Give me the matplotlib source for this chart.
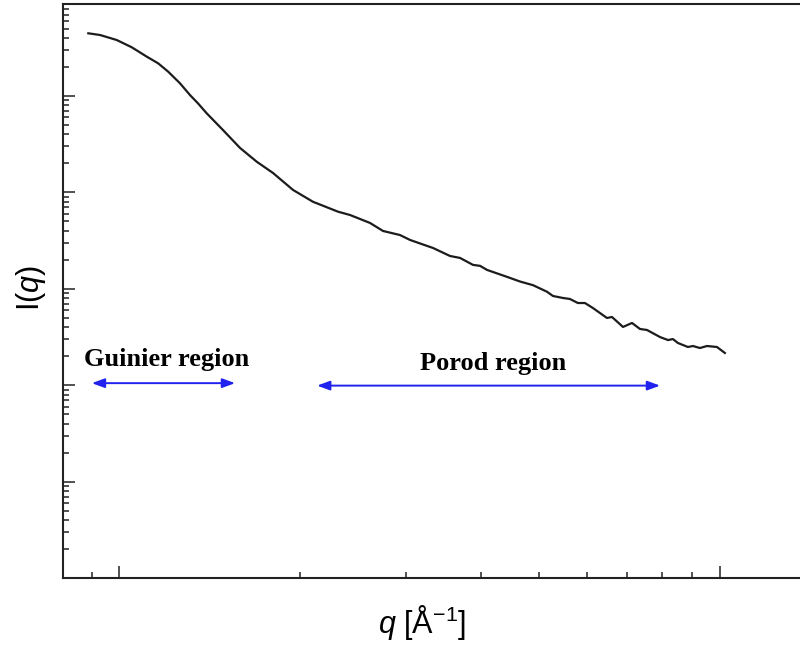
import matplotlib
matplotlib.use("Agg")
import matplotlib.pyplot as plt
from matplotlib.ticker import LogLocator, NullFormatter

# ---- data ----
q = [0.00889, 0.00930, 0.00991, 0.01050, 0.01112, 0.01162, 0.01207, 0.01263,
     0.01313, 0.01353, 0.01399, 0.01489, 0.01590,
     0.01695, 0.01804, 0.01948, 0.02102, 0.02314, 0.02423, 0.02616, 0.02750,
     0.02935, 0.03050, 0.03331, 0.03554, 0.03694, 0.03882, 0.03988, 0.04096,
     0.04422, 0.04648, 0.04886, 0.05153, 0.05274, 0.05480, 0.05628, 0.05803,
     0.05961, 0.06146, 0.06486, 0.06612, 0.06897, 0.07139, 0.07361, 0.07561,
     0.07947, 0.08194, 0.08352, 0.08513, 0.08846, 0.09017, 0.09262, 0.09515,
     0.09886, 0.1019]
intensity = [4.47e5, 4.29e5, 3.81e5, 3.20e5, 2.56e5, 2.18e5, 1.79e5, 1.355e5,
             1.02e5, 8.40e4, 6.62e4, 4.44e4, 2.89e4,
             2.08e4, 1.59e4, 1.06e4, 8.0e3, 6.31e3, 5.83e3, 4.82e3, 3.98e3,
             3.61e3, 3.21e3, 2.65e3, 2.19e3, 2.09e3, 1.77e3, 1.73e3, 1.57e3,
             1.33e3, 1.19e3, 1.09e3, 933, 842, 803, 784, 712,
             712, 632, 498, 510, 402, 442, 383, 374,
             316, 294, 301, 274, 249, 255, 243, 255,
             249, 216]

region_labels = ["Guinier region", "Porod region"]
region_q_start = [0.00901, 0.02136]
region_q_end = [0.01560, 0.0795]
region_arrow_I = [105, 99]
region_label_q = [0.01202, 0.04198]
region_label_I = [158, 144]

xlabel = r"$q$ [Å$^{-1}$]"
ylabel = r"I($q$)"

# ---- style ----
plt.rcParams["mathtext.fontset"] = "custom"
plt.rcParams["mathtext.rm"] = "Liberation Sans"
plt.rcParams["mathtext.it"] = "Liberation Sans:italic"
plt.rcParams["mathtext.bf"] = "Liberation Sans:bold"

fig = plt.figure(figsize=(8.0, 6.46), dpi=100)
ax = fig.add_axes([63 / 800, 68 / 646, 737 / 800, 574 / 646])

ax.plot(q, intensity, color="#1c1c1c", lw=1.6, solid_joinstyle="round")

blue = "#2222ee"
for lab, qs, qe, ya, lq, li in zip(region_labels, region_q_start, region_q_end,
                                   region_arrow_I, region_label_q, region_label_I):
    ax.annotate("", xy=(qe, ya), xytext=(qs, ya),
                arrowprops=dict(arrowstyle="<|-|>,head_length=0.38,head_width=0.14",
                                color=blue, lw=1.4, mutation_scale=20,
                                shrinkA=0, shrinkB=0))
    ax.text(lq, li, lab, ha="center", va="baseline", family="Liberation Serif",
            fontweight="bold", fontsize=19, color="black")

ax.set_xscale("log")
ax.set_yscale("log")
ax.set_xlim(0.008068, 0.1359)
ax.set_ylim(1.0, 9.0e5)

ax.xaxis.set_major_locator(LogLocator(base=10))
ax.xaxis.set_minor_locator(LogLocator(base=10, subs=range(2, 10)))
ax.yaxis.set_major_locator(LogLocator(base=10))
ax.yaxis.set_minor_locator(LogLocator(base=10, subs=range(2, 10), numticks=20))
ax.xaxis.set_major_formatter(NullFormatter())
ax.xaxis.set_minor_formatter(NullFormatter())
ax.yaxis.set_major_formatter(NullFormatter())
ax.yaxis.set_minor_formatter(NullFormatter())

ax.tick_params(which="both", direction="in", color="#222222", top=False, right=False)
ax.tick_params(which="major", length=8.6, width=1.1)
ax.tick_params(which="minor", length=4.3, width=1.1)

for side in ["left", "bottom", "top"]:
    ax.spines[side].set_linewidth(1.5)
    ax.spines[side].set_color("#222222")
ax.spines["right"].set_visible(False)

ax.set_xlabel(xlabel, family="Liberation Sans", fontsize=22, va="center")
ax.xaxis.set_label_coords(0.487, -0.0767)
ax.set_ylabel(ylabel, family="Liberation Sans", fontsize=22, va="center")
ax.yaxis.set_label_coords(-0.0434, 0.505)

fig.savefig("out.png", dpi=100)
